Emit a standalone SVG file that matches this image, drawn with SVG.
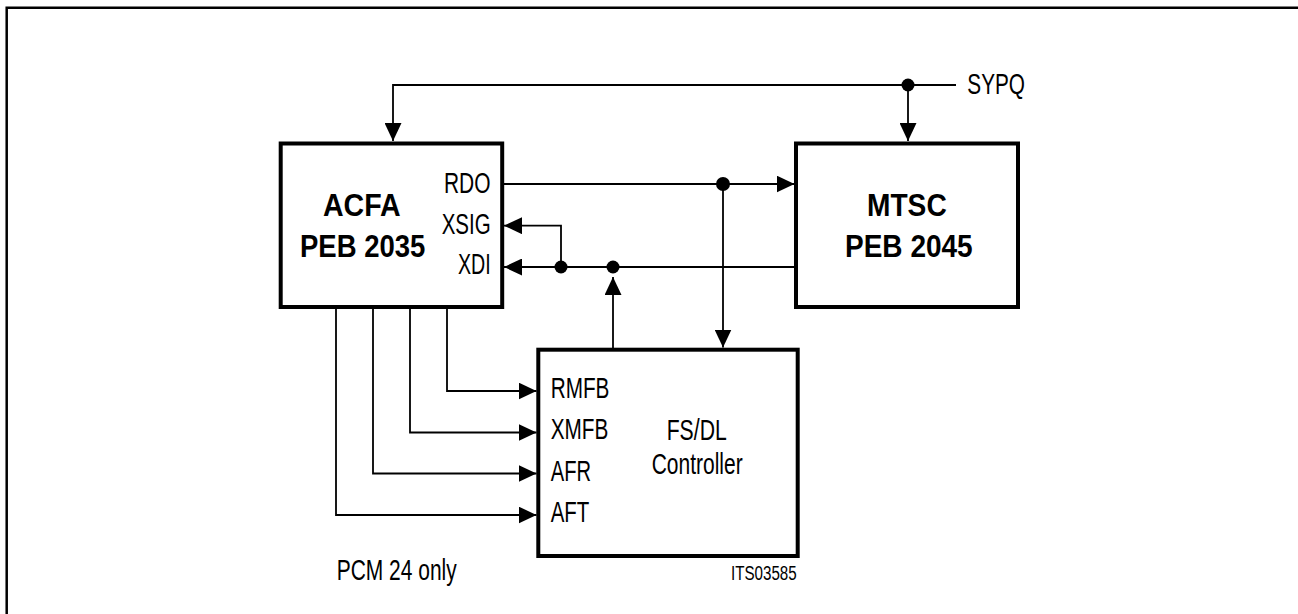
<svg xmlns="http://www.w3.org/2000/svg" width="1298" height="614" viewBox="0 0 1298 614">
<style>
.box{fill:#fff;stroke:#000;stroke-width:4}
.ln{fill:none;stroke:#000;stroke-width:1.8}
.frame{fill:none;stroke:#000;stroke-width:2.5}
.dot{fill:#000}
.t{font-family:"Liberation Sans",Arial,sans-serif;font-size:29px;fill:#000}
.b{font-family:"Liberation Sans",Arial,sans-serif;font-size:32px;font-weight:bold;fill:#000}
.s{font-family:"Liberation Sans",Arial,sans-serif;font-size:20px;fill:#000}
</style>
<defs>
<marker id="ah" markerUnits="userSpaceOnUse" markerWidth="18" markerHeight="17" refX="18" refY="8.5" orient="auto">
<path d="M0,0 L18,8.5 L0,17 z" fill="#000"/>
</marker>
</defs>
<path class="frame" d="M6.7,614 V7.7 H1298"/>
<g id="acfa">
<rect class="box" x="280.7" y="143.5" width="221.5" height="163.5"/>
<text class="b" x="323" y="215.7" textLength="77.7" lengthAdjust="spacingAndGlyphs">ACFA</text>
<text class="b" x="300" y="257.3" textLength="125.3" lengthAdjust="spacingAndGlyphs">PEB 2035</text>
<text class="t" x="444" y="192.7" textLength="46.5" lengthAdjust="spacingAndGlyphs">RDO</text>
<text class="t" x="441.7" y="234" textLength="49" lengthAdjust="spacingAndGlyphs">XSIG</text>
<text class="t" x="458" y="274" textLength="32.7" lengthAdjust="spacingAndGlyphs">XDI</text>
</g>
<g id="mtsc">
<rect class="box" x="796" y="143.5" width="222" height="163.5"/>
<text class="b" x="867" y="216" textLength="79.7" lengthAdjust="spacingAndGlyphs">MTSC</text>
<text class="b" x="845" y="256.7" textLength="127.7" lengthAdjust="spacingAndGlyphs">PEB 2045</text>
</g>
<g id="fsdl">
<rect class="box" x="538.3" y="349.7" width="259.4" height="206.3"/>
<text class="t" x="550.7" y="398.3" textLength="58.7" lengthAdjust="spacingAndGlyphs">RMFB</text>
<text class="t" x="550.7" y="439.3" textLength="57.7" lengthAdjust="spacingAndGlyphs">XMFB</text>
<text class="t" x="550.7" y="481" textLength="40.3" lengthAdjust="spacingAndGlyphs">AFR</text>
<text class="t" x="550.7" y="521.7" textLength="38.7" lengthAdjust="spacingAndGlyphs">AFT</text>
<text class="t" x="666.7" y="440" textLength="60" lengthAdjust="spacingAndGlyphs">FS/DL</text>
<text class="t" x="651.7" y="474" textLength="91" lengthAdjust="spacingAndGlyphs">Controller</text>
</g>
<g id="labels">
<text class="t" x="967.3" y="93.5" textLength="57.7" lengthAdjust="spacingAndGlyphs">SYPQ</text>
<text class="t" x="336.7" y="580" textLength="120" lengthAdjust="spacingAndGlyphs">PCM 24 only</text>
<text class="s" x="731" y="580" textLength="65.7" lengthAdjust="spacingAndGlyphs">ITS03585</text>
</g>
<g id="connectors">
<path class="ln" d="M956,85 H393 V141" marker-end="url(#ah)"/>
<path class="ln" d="M908,85 V141" marker-end="url(#ah)"/>
<path class="ln" d="M502,184 H794.5" marker-end="url(#ah)"/>
<path class="ln" d="M723,184 V347.5" marker-end="url(#ah)"/>
<path class="ln" d="M796,267 H504" marker-end="url(#ah)"/>
<path class="ln" d="M561,267 V225.7 H504" marker-end="url(#ah)"/>
<path class="ln" d="M613,349 V277" marker-end="url(#ah)"/>
<path class="ln" d="M447,307 V391 H536.5" marker-end="url(#ah)"/>
<path class="ln" d="M410,307 V432.5 H536.5" marker-end="url(#ah)"/>
<path class="ln" d="M373,307 V473.5 H536.5" marker-end="url(#ah)"/>
<path class="ln" d="M336,307 V515 H536.5" marker-end="url(#ah)"/>
<circle class="dot" cx="908" cy="85" r="6.5"/>
<circle class="dot" cx="723" cy="184" r="7"/>
<circle class="dot" cx="561" cy="267" r="6.5"/>
<circle class="dot" cx="613" cy="267" r="6.5"/>
</g>
</svg>
